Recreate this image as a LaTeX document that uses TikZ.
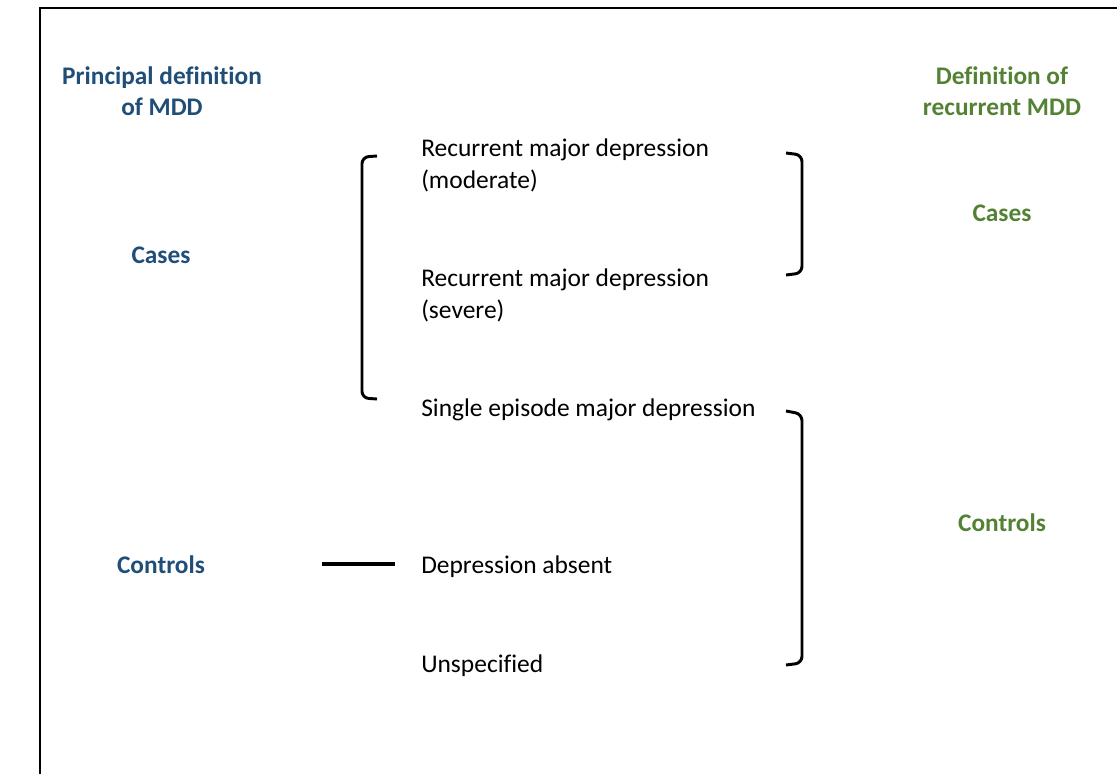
\documentclass[tikz,border=0pt]{standalone}
\usepackage{fontspec}
\setmainfont{Carlito}[Ligatures=NoCommon]
\definecolor{hblue}{RGB}{31,78,121}
\definecolor{hgreen}{RGB}{84,130,53}
\begin{document}
\begin{tikzpicture}[x=0.75pt,y=-0.75pt,
  txt/.style={inner sep=0pt,anchor=west,align=left,font=\fontsize{19.1}{24}\selectfont},
  lhead/.style={inner sep=0pt,align=center,text=hblue,font=\fontsize{19}{23.5}\selectfont\bfseries},
  rhead/.style={inner sep=0pt,align=center,text=hgreen,font=\fontsize{19}{23.5}\selectfont\bfseries},
  brk/.style={line width=2.2pt,rounded corners=5pt},
  frame/.style={line width=2.2pt}]
\useasboundingbox (0,0) rectangle (1117,774);
\draw[frame] (40,775) -- (40,8) -- (1118,8);
% headings
\node[lhead] (ph) at (162,91) {Principal definition\\of MDD};
\node[rhead] (rh) at (1002,91) {Definition of\\recurrent MDD};
\node[lhead] (lcases) at (161,255) {Cases};
\node[lhead] (lcontrols) at (161,565) {Controls};
\node[rhead] (rcases) at (1002,213) {Cases};
\node[rhead] (rcontrols) at (1002,523) {Controls};
% middle items
\node[txt] (r1) at (421,165.5) {Recurrent major depression\\(moderate)};
\node[txt] (r2) at (421,295.5) {Recurrent major depression\\(severe)};
\node[txt] (se) at (421,410) {Single episode major depression};
\node[txt] (da) at (421,567) {Depression absent};
\node[txt] (un) at (421,666) {Unspecified};
% brackets
\draw[brk] (377,156) -- (362,157) -- (362,398) -- (377,399);
\draw[brk] (786,153) -- (802,155) -- (802,273) -- (786,275);
\draw[brk] (786,411) -- (802,414) -- (802,663) -- (786,665);
% dash
\coordinate (d1) at (322,564);
\coordinate (d2) at (395,564);
\draw[line width=2.4pt] (d1) -- (d2);
\end{tikzpicture}
\end{document}
